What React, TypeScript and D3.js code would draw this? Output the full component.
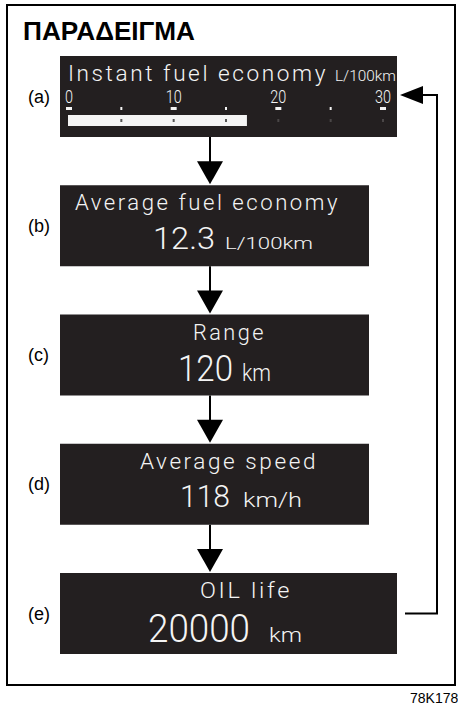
import React from "react";
import * as d3 from "d3";

const panelLabels = ["(a)", "(b)", "(c)", "(d)", "(e)"];
const panelTitles = ["Instant fuel economy", "Average fuel economy", "Range", "Average speed", "OIL life"];
const panelValues = ["", "12.3", "120", "118", "20000"];
const panelUnits = ["L/100km", "L/100km", "km", "km/h", "km"];
const gaugeTicks = [0, 10, 20, 30];
const gaugeMinor = [5, 15, 25];
const gaugeValue = 17;
const heading = "ΠΑΡΑΔΕΙΓΜΑ";
const figureCode = "78K178";

const W = 458;
const H = 705;
const BG = "#231f20";
const FG = "#f4f4f4";
const DISP = "Roboto, 'DejaVu Sans', sans-serif";
const ARIAL = "'Liberation Sans', Arial, sans-serif";

// layout (text boxes)
const boxTop = d3.scaleLinear().domain([0, 4]).range([56, 573]);
const BOX_H = 81;
const boxLeft = 60;
const boxRightWide = 397;
const boxRightNarrow = 369;
const arrowX = 210;

const titleLayout = [
  { x: 68, w: 260 },
  { x: 75, w: 265 },
  { x: 193, w: 73 },
  { x: 140, w: 178 },
  { x: 200, w: 92 },
];
const valueLayout = [
  null,
  { x: 153, w: 62, size: 31, dy: 64, ux: 225, uw: 88, usize: 17 },
  { x: 178, w: 55, size: 36, dy: 66, ux: 242, uw: 29, usize: 23 },
  { x: 180, w: 50, size: 31, dy: 63, ux: 243, uw: 59, usize: 20 },
  { x: 148, w: 102, size: 38, dy: 69, ux: 269, uw: 33, usize: 20 },
];

export default function App() {
  const gx = d3.scaleLinear().domain([0, 30]).range([69, 383]);

  const arrows = d3.range(4).map((i) => {
    const y0 = boxTop(i) + BOX_H;
    const y1 = boxTop(i + 1) - 1;
    const headH = 23;
    return (
      <g key={"ar" + i}>
        <line x1={arrowX} x2={arrowX} y1={y0} y2={y1 - headH + 1} stroke="#000" strokeWidth={2} />
        <path
          d={`M${arrowX - 13},${y1 - headH} L${arrowX + 13},${y1 - headH} L${arrowX},${y1} Z`}
          fill="#000"
        />
      </g>
    );
  });

  const boxes = panelTitles.map((t, i) => {
    const top = boxTop(i);
    const right = i === 0 || i === 4 ? boxRightWide : boxRightNarrow;
    const tl = titleLayout[i];
    const vl = valueLayout[i];
    return (
      <g key={"box" + i}>
        <rect x={boxLeft} y={top} width={right - boxLeft} height={BOX_H} fill={BG} />
        <text x={28} y={top + BOX_H / 2 + 6} fontFamily={ARIAL} fontSize={18} fill="#000">
          {panelLabels[i]}
        </text>
        <text
          x={tl.x}
          y={top + 25}
          fontFamily={DISP}
          fontWeight={300}
          fontSize={22}
          letterSpacing={2.5}
          fill={FG}
          textLength={tl.w}
          lengthAdjust="spacingAndGlyphs"
        >
          {t}
        </text>
        {vl && (
          <>
            <text
              x={vl.x}
              y={top + vl.dy}
              fontFamily={DISP}
              fontWeight={300}
              fontSize={vl.size}
              fill={FG}
              textLength={vl.w}
              lengthAdjust="spacingAndGlyphs"
            >
              {panelValues[i]}
            </text>
            <text
              x={vl.ux}
              y={top + vl.dy}
              fontFamily={DISP}
              fontWeight={300}
              fontSize={vl.usize}
              fill={FG}
              textLength={vl.uw}
              lengthAdjust="spacingAndGlyphs"
            >
              {panelUnits[i]}
            </text>
          </>
        )}
      </g>
    );
  });

  const top0 = boxTop(0);
  const gauge = (
    <g>
      <text
        x={396}
        y={top0 + 25}
        fontFamily={DISP}
        fontWeight={300}
        fontSize={15}
        fill={FG}
        textAnchor="end"
        textLength={61}
        lengthAdjust="spacingAndGlyphs"
      >
        {panelUnits[0]}
      </text>
      {gaugeTicks.map((t) => (
        <g key={"t" + t}>
          <text
            x={gx(t)}
            y={top0 + 47}
            fontFamily={DISP}
            fontWeight={300}
            fontSize={18}
            fill={FG}
            textAnchor="middle"
            textLength={t === 0 ? 8 : 16}
            lengthAdjust="spacingAndGlyphs"
          >
            {t}
          </text>
          <rect x={gx(t) - 3} y={top0 + 51} width={6} height={3} fill={FG} />
        </g>
      ))}
      {gaugeMinor.map((t) => (
        <rect key={"m" + t} x={gx(t) - 1} y={top0 + 51} width={2} height={3} fill={FG} />
      ))}
      <rect x={gx(0) - 1} y={top0 + 59} width={gx(gaugeValue) - gx(0) + 1} height={11} fill={FG} />
      {[...gaugeMinor, ...gaugeTicks.slice(1)].map((t) => (
        <rect
          key={"d" + t}
          x={gx(t) - 1}
          y={top0 + 63}
          width={2}
          height={3}
          fill={t < gaugeValue ? "#555" : "#4a4647"}
        />
      ))}
    </g>
  );

  const eMid = boxTop(4) + BOX_H / 2;
  const retY = boxTop(0) + 39;
  const retX = 437;

  return (
    <svg width={W} height={H} style={{ position: "absolute", left: 0, top: 0, background: "#fff" }}>
      <rect x={7} y={5} width={448} height={680} fill="none" stroke="#000" strokeWidth={2} />
      <text
        x={23}
        y={40}
        fontFamily={ARIAL}
        fontWeight="bold"
        fontSize={26}
        fill="#000"
        textLength={172}
        lengthAdjust="spacingAndGlyphs"
      >
        {heading}
      </text>
      {boxes}
      {gauge}
      {arrows}
      <path d={`M405,${eMid} H${retX} V${retY} H422`} fill="none" stroke="#000" strokeWidth={2} />
      <path d={`M423,${retY - 9} L423,${retY + 9} L400,${retY} Z`} fill="#000" />
      <text x={410} y={703} fontFamily={ARIAL} fontSize={14} fill="#000">
        {figureCode}
      </text>
    </svg>
  );
}
